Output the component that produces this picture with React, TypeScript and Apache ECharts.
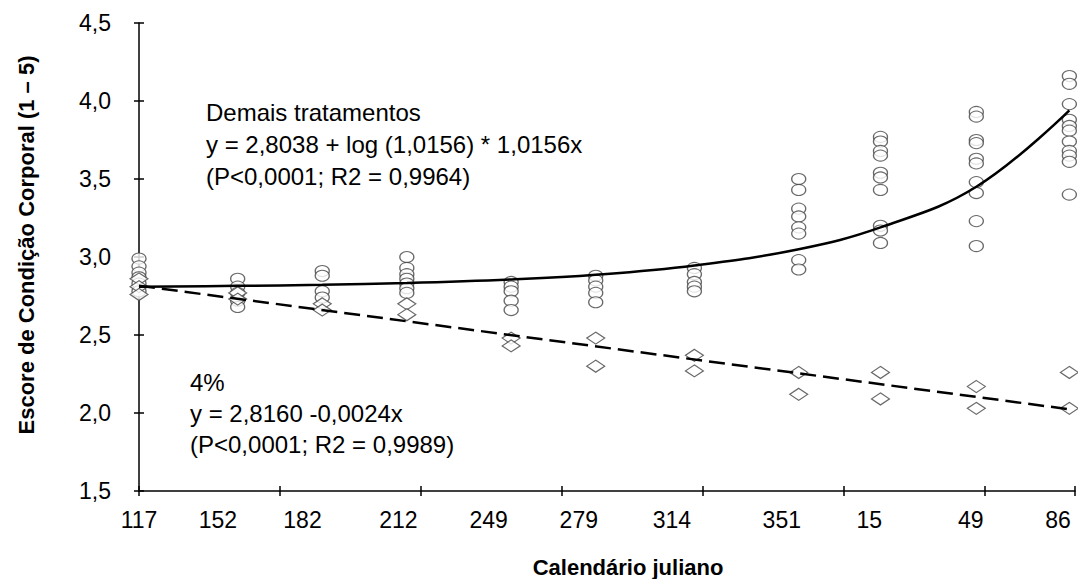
import React, { useEffect, useRef } from "react";
import * as echarts from "echarts";

// Julian calendar dates (x-axis labels) and days elapsed since the first date
const dateLabels = ["117", "152", "182", "212", "249", "279", "314", "351", "15", "49", "86"];
const dayOffsets = [0, 35, 65, 95, 132, 162, 197, 234, 263, 297, 330];
// where the tick labels sit along the day axis
const labelPositions = [0, 28, 58, 92, 124, 156, 189, 228, 259, 295, 326];

// Body condition scores, "Demais tratamentos" (circles)
const demaisScores: number[][] = [
  [2.99, 2.94, 2.9, 2.87, 2.83, 2.78],
  [2.86, 2.81, 2.77, 2.72, 2.68],
  [2.91, 2.88, 2.78, 2.74],
  [3.0, 2.93, 2.89, 2.86, 2.83, 2.8, 2.77],
  [2.84, 2.81, 2.78, 2.72, 2.66],
  [2.88, 2.85, 2.81, 2.77, 2.71],
  [2.93, 2.89, 2.84, 2.81, 2.78],
  [3.5, 3.43, 3.31, 3.26, 3.19, 3.15, 2.98, 2.92],
  [3.77, 3.74, 3.68, 3.65, 3.54, 3.51, 3.43, 3.2, 3.17, 3.09],
  [3.93, 3.9, 3.75, 3.73, 3.63, 3.6, 3.48, 3.41, 3.23, 3.07],
  [4.16, 4.11, 3.98, 3.88, 3.84, 3.81, 3.74, 3.68, 3.65, 3.61, 3.4],
];

// Body condition scores, "4%" (diamonds)
const pct4Scores: number[][] = [
  [2.86, 2.81, 2.76],
  [2.77, 2.73],
  [2.7, 2.66],
  [2.7, 2.63],
  [2.48, 2.43],
  [2.48, 2.3],
  [2.37, 2.27],
  [2.26, 2.12],
  [2.26, 2.09],
  [2.17, 2.03],
  [2.26, 2.03],
];

// Fitted curves read at each date
const demaisTrend = [2.81, 2.815, 2.822, 2.833, 2.856, 2.886, 2.946, 3.05, 3.19, 3.45, 3.94];
const pct4TrendEnds = [2.816, 2.024];

const yTicks = [1.5, 2.0, 2.5, 3.0, 3.5, 4.0, 4.5];

const FONT = "'Liberation Sans', Arial, sans-serif";

export default function App() {
  const ref = useRef<HTMLDivElement>(null);

  useEffect(() => {
    if (!ref.current) return;
    const chart = echarts.init(ref.current, undefined, { renderer: "svg" });

    const circles: number[][] = [];
    demaisScores.forEach((vals, i) => vals.forEach((v) => circles.push([dayOffsets[i], v])));
    const diamonds: number[][] = [];
    pct4Scores.forEach((vals, i) => vals.forEach((v) => diamonds.push([dayOffsets[i], v])));

    const xMin = 0;
    const xMax = 332;

    const baseX = {
      type: "value",
      min: xMin,
      max: xMax,
      interval: 50,
      position: "bottom",
      splitLine: { show: false },
    };
    const baseY = {
      type: "value",
      min: yTicks[0],
      max: yTicks[yTicks.length - 1],
      interval: 0.5,
      position: "left",
      splitLine: { show: false },
    };

    chart.setOption({
      animation: false,
      backgroundColor: "#fff",
      grid: { left: 139, right: 3, top: 23, bottom: 88, containLabel: false },
      xAxis: [
        {
          ...baseX,
          axisLine: { show: true, lineStyle: { color: "#000", width: 1.5 } },
          axisTick: { show: true, length: 5, lineStyle: { color: "#000", width: 1.5 } },
          axisLabel: {
            customValues: labelPositions,
            formatter: (v: number) => {
              const idx = labelPositions.indexOf(v);
              return idx >= 0 ? dateLabels[idx] : "";
            },
            color: "#000",
            fontSize: 23,
            fontFamily: FONT,
            margin: 17,
          },
        },
        {
          ...baseX,
          axisLine: { show: false },
          axisTick: { show: true, inside: true, length: 5, lineStyle: { color: "#000", width: 1.5 } },
          axisLabel: { show: false },
        },
      ],
      yAxis: [
        {
          ...baseY,
          axisLine: { show: true, lineStyle: { color: "#000", width: 1.5 } },
          axisTick: { show: true, length: 5, lineStyle: { color: "#000", width: 1.5 } },
          axisLabel: {
            formatter: (v: number) => v.toFixed(1).replace(".", ","),
            color: "#000",
            fontSize: 23,
            fontFamily: FONT,
            margin: 28,
          },
        },
        {
          ...baseY,
          axisLine: { show: false },
          axisTick: { show: true, inside: true, length: 5, lineStyle: { color: "#000", width: 1.5 } },
          axisLabel: { show: false },
        },
      ],
      graphic: [
        {
          type: "text",
          x: 26,
          y: 245,
          rotation: Math.PI / 2,
          style: {
            text: "Escore de Condição Corporal (1 – 5)",
            fill: "#000",
            font: `bold 22px ${FONT}`,
            align: "center",
            verticalAlign: "middle",
          },
        },
        {
          type: "text",
          x: 628,
          y: 567,
          style: {
            text: "Calendário juliano",
            fill: "#000",
            font: `bold 22px ${FONT}`,
            align: "center",
            verticalAlign: "middle",
          },
        },
        {
          type: "text",
          left: 206,
          top: 96,
          style: {
            text: "Demais tratamentos\ny = 2,8038 + log (1,0156) * 1,0156x\n(P<0,0001; R2 = 0,9964)",
            fill: "#000",
            font: `24px ${FONT}`,
            lineHeight: 32,
          },
        },
        {
          type: "text",
          left: 190,
          top: 367,
          style: {
            text: "4%\ny = 2,8160 -0,0024x\n(P<0,0001; R2 = 0,9989)",
            fill: "#000",
            font: `24px ${FONT}`,
            lineHeight: 31,
          },
        },
      ],
      series: [
        {
          type: "scatter",
          name: "Demais tratamentos",
          data: circles,
          symbol: "circle",
          symbolSize: [14, 11],
          itemStyle: { color: "#fff", borderColor: "#444", borderWidth: 1.2 },
          z: 2,
        },
        {
          type: "scatter",
          name: "4%",
          data: diamonds,
          symbol: "diamond",
          symbolSize: [18, 12],
          itemStyle: { color: "#fff", borderColor: "#444", borderWidth: 1.2 },
          z: 2,
        },
        {
          type: "line",
          data: dayOffsets.map((d, i) => [d, demaisTrend[i]]),
          smooth: 0.4,
          symbol: "none",
          lineStyle: { color: "#000", width: 2.5 },
          z: 3,
        },
        {
          type: "line",
          data: [
            [dayOffsets[0], pct4TrendEnds[0]],
            [dayOffsets[dayOffsets.length - 1], pct4TrendEnds[1]],
          ],
          symbol: "none",
          lineStyle: { color: "#000", width: 2.5, type: [16, 7] },
          z: 3,
        },
      ],
    });

    return () => chart.dispose();
  }, []);

  return (
    <div
      ref={ref}
      style={{ position: "fixed", left: 0, top: 0, width: 1078, height: 579, background: "#fff" }}
    />
  );
}
